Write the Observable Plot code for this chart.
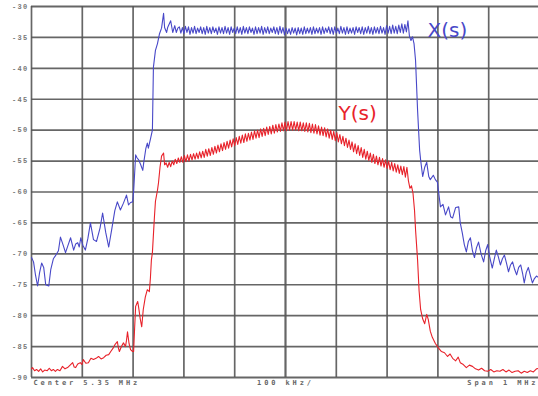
<!DOCTYPE html>
<html><head><meta charset="utf-8">
<script src="https://cdn.jsdelivr.net/npm/d3@7"></script>
<script src="https://cdn.jsdelivr.net/npm/@observablehq/plot@0.6"></script>
<style>
body{margin:0;background:#fff}
svg{display:block}
g[font-family="Liberation Mono"] text{letter-spacing:1.3px}
g[font-family="DejaVu Sans Mono"] text{letter-spacing:2.9px}
</style>
</head><body><div id="chart"></div>
<script>
// Trace X(s): [frequency MHz, level dB]
const traceX = [
[4.850,-70.6],[4.854,-71.3],[4.858,-73.5],[4.862,-75.2],[4.866,-73.0],[4.870,-71.5],[4.874,-72.2],[4.878,-75.0],[4.884,-75.2],[4.888,-72.5],
[4.893,-70.8],[4.898,-70.2],[4.903,-69.5],[4.907,-67.3],[4.912,-68.5],[4.917,-69.8],[4.922,-68.6],[4.927,-67.4],[4.933,-69.4],[4.937,-68.4],
[4.941,-68.2],[4.944,-68.9],[4.947,-67.4],[4.951,-68.6],[4.956,-69.4],[4.961,-67.5],[4.966,-65.0],[4.972,-67.7],[4.978,-68.0],[4.985,-65.8],
[4.990,-63.4],[4.996,-66.5],[5.002,-68.9],[5.008,-66.0],[5.014,-63.0],[5.019,-61.6],[5.025,-62.9],[5.031,-61.8],[5.037,-60.5],[5.041,-62.1],
[5.045,-61.7],[5.049,-61.6],[5.051,-60.0],[5.053,-57.0],[5.055,-54.0],[5.058,-54.5],[5.061,-54.8],[5.065,-55.6],[5.069,-56.5],[5.071,-55.2],
[5.075,-53.0],[5.078,-52.1],[5.080,-52.9],[5.084,-51.5],[5.088,-50.0],[5.090,-39.8],[5.094,-37.1],[5.098,-36.0],[5.102,-34.4],[5.106,-33.5],
[5.110,-31.1],[5.112,-33.4],[5.116,-34.2],[5.118,-33.4],[5.124,-32.3],[5.128,-34.2],[5.132,-33.1],[5.135,-34.2],[5.138,-33.5],
[5.141,-33.3],[5.144,-34.3],[5.147,-33.4],[5.150,-34.4],[5.153,-33.2],[5.156,-34.2],[5.159,-33.3],[5.162,-34.5],[5.165,-33.4],[5.168,-34.3],
[5.171,-33.2],[5.174,-34.4],[5.177,-33.5],[5.180,-34.2],[5.183,-33.3],[5.186,-34.4],[5.189,-33.4],[5.192,-34.5],[5.195,-33.2],[5.198,-34.3],
[5.201,-33.4],[5.204,-34.4],[5.207,-33.3],[5.210,-34.2],[5.213,-33.5],[5.216,-34.5],[5.219,-33.3],[5.222,-34.3],[5.225,-33.4],[5.228,-34.4],
[5.231,-33.2],[5.234,-34.3],[5.237,-33.4],[5.240,-34.5],[5.243,-33.3],[5.246,-34.2],[5.249,-33.5],[5.252,-34.4],[5.255,-33.3],[5.258,-34.3],
[5.261,-33.4],[5.264,-34.5],[5.267,-33.2],[5.270,-34.3],[5.273,-33.4],[5.276,-34.4],[5.279,-33.3],[5.282,-34.2],[5.285,-33.5],[5.288,-34.5],
[5.291,-33.3],[5.294,-34.4],[5.297,-33.4],[5.300,-34.3],[5.303,-33.2],[5.306,-34.5],[5.309,-33.4],[5.312,-34.3],[5.315,-33.3],[5.318,-34.4],
[5.321,-33.5],[5.324,-34.2],[5.327,-33.3],[5.330,-34.4],[5.333,-33.4],[5.336,-34.5],[5.339,-33.2],[5.342,-34.3],[5.345,-33.4],[5.348,-34.6],
[5.351,-33.5],[5.354,-34.4],[5.357,-33.6],[5.360,-34.5],[5.363,-33.4],[5.366,-34.3],[5.369,-33.5],[5.372,-34.6],[5.375,-33.4],[5.378,-34.4],
[5.381,-33.5],[5.384,-34.5],[5.387,-33.3],[5.390,-34.4],[5.393,-33.5],[5.396,-34.3],[5.399,-33.4],[5.402,-34.5],[5.405,-33.3],[5.408,-34.4],
[5.411,-33.5],[5.414,-34.3],[5.417,-33.4],[5.420,-34.5],[5.423,-33.3],[5.426,-34.4],[5.429,-33.5],[5.432,-34.2],[5.435,-33.3],[5.438,-34.4],
[5.441,-33.4],[5.444,-34.5],[5.447,-33.3],[5.450,-34.3],[5.453,-33.5],[5.456,-34.4],[5.459,-33.2],[5.462,-34.3],[5.465,-33.4],[5.468,-34.5],
[5.471,-33.3],[5.474,-34.4],[5.477,-33.5],[5.480,-34.3],[5.483,-33.4],[5.486,-34.5],[5.489,-33.3],[5.492,-34.2],[5.495,-33.4],[5.498,-34.4],
[5.501,-33.3],[5.504,-34.5],[5.507,-33.4],[5.510,-34.3],[5.513,-33.2],[5.516,-34.4],[5.519,-33.4],[5.522,-34.5],[5.525,-33.3],[5.528,-34.3],
[5.531,-33.4],[5.534,-34.4],[5.537,-33.2],[5.540,-34.3],[5.543,-33.4],[5.546,-34.5],[5.549,-33.1],[5.552,-34.3],[5.555,-33.2],[5.558,-34.4],
[5.561,-33.0],[5.564,-34.3],[5.567,-33.2],[5.570,-34.4],[5.573,-33.0],[5.576,-34.2],[5.579,-32.8],[5.582,-34.3],[5.585,-32.9],[5.588,-34.1],
[5.591,-32.3],[5.594,-34.8],[5.597,-35.5],[5.600,-34.9],[5.603,-36.0],[5.606,-38.7],[5.610,-46.8],[5.614,-53.2],[5.616,-54.8],[5.620,-57.5],
[5.624,-56.0],[5.628,-55.2],[5.632,-57.5],[5.635,-58.0],[5.641,-57.3],[5.645,-58.0],[5.649,-58.4],[5.655,-62.4],[5.660,-62.0],[5.665,-63.7],
[5.671,-62.4],[5.675,-64.0],[5.679,-64.2],[5.685,-62.5],[5.691,-62.4],[5.694,-65.0],[5.698,-66.6],[5.702,-68.5],[5.706,-69.7],[5.710,-68.0],
[5.714,-67.4],[5.718,-69.5],[5.722,-70.6],[5.726,-69.0],[5.730,-68.1],[5.735,-70.0],[5.740,-71.3],[5.744,-69.5],[5.748,-68.5],[5.752,-70.5],
[5.757,-72.3],[5.761,-70.8],[5.765,-69.4],[5.769,-70.5],[5.773,-71.8],[5.777,-70.8],[5.781,-70.2],[5.785,-71.5],[5.789,-72.9],[5.793,-71.8],
[5.797,-71.3],[5.801,-72.5],[5.805,-73.4],[5.809,-72.2],[5.813,-71.8],[5.817,-73.3],[5.820,-74.7],[5.824,-73.0],[5.828,-72.2],[5.832,-73.5],
[5.836,-74.7],[5.840,-74.0],[5.844,-73.6],[5.850,-73.9]
];

// Trace Y(s): [frequency MHz, level dB]
const traceY = [
[4.850,-88.6],[4.852,-88.4],[4.856,-88.9],[4.860,-88.7],[4.864,-89.0],[4.868,-88.6],[4.872,-89.1],[4.876,-88.8],[4.881,-88.9],[4.885,-88.5],
[4.889,-88.9],[4.893,-88.7],[4.897,-89.0],[4.901,-88.7],[4.906,-88.9],[4.911,-88.2],[4.916,-88.6],[4.921,-88.4],[4.926,-88.0],[4.931,-87.6],
[4.934,-88.3],[4.937,-88.4],[4.941,-87.8],[4.946,-87.6],[4.949,-87.9],[4.952,-87.1],[4.957,-87.7],[4.962,-87.6],[4.967,-86.9],[4.972,-87.1],
[4.977,-86.9],[4.982,-86.6],[4.987,-87.0],[4.992,-86.8],[4.997,-86.4],[5.002,-86.3],[5.006,-85.8],[5.011,-85.2],[5.015,-84.6],[5.019,-84.2],
[5.021,-85.2],[5.023,-85.8],[5.027,-85.0],[5.031,-84.4],[5.035,-85.0],[5.037,-84.0],[5.039,-82.6],[5.042,-84.5],[5.045,-85.5],[5.049,-85.8],
[5.051,-85.8],[5.053,-82.0],[5.055,-78.5],[5.059,-77.7],[5.061,-78.7],[5.064,-80.5],[5.067,-81.8],[5.070,-79.0],[5.074,-77.0],[5.078,-75.8],
[5.082,-76.1],[5.084,-74.0],[5.086,-71.0],[5.088,-69.8],[5.092,-64.0],[5.094,-61.5],[5.098,-59.7],[5.100,-58.5],[5.103,-56.0],[5.106,-54.2],
[5.110,-53.7],[5.112,-55.6],[5.115,-55.3],[5.118,-56.0],
[5.121,-55.2],[5.124,-55.9],[5.127,-55.0],[5.130,-55.6],[5.133,-54.7],[5.136,-55.4],[5.139,-54.5],[5.142,-55.2],[5.145,-54.3],[5.148,-55.2],
[5.151,-54.1],[5.154,-55.1],[5.157,-54.0],[5.160,-55.0],[5.163,-53.9],[5.166,-54.8],[5.169,-53.8],[5.172,-54.7],[5.175,-53.7],[5.178,-54.6],
[5.181,-53.5],[5.184,-54.5],[5.187,-53.4],[5.190,-54.4],[5.193,-53.1],[5.196,-54.2],[5.199,-53.0],[5.202,-54.1],[5.205,-52.8],[5.208,-53.9],
[5.211,-52.6],[5.214,-53.7],[5.217,-52.4],[5.220,-53.5],[5.223,-52.2],[5.226,-53.3],[5.229,-52.0],[5.232,-53.1],[5.235,-51.8],[5.238,-52.9],
[5.241,-51.6],[5.244,-52.7],[5.247,-51.4],[5.250,-52.5],[5.253,-51.2],[5.256,-52.3],[5.259,-51.0],[5.262,-52.1],[5.265,-50.8],[5.268,-52.0],
[5.271,-50.6],[5.274,-51.8],[5.277,-50.5],[5.280,-51.6],[5.283,-50.3],[5.286,-51.5],[5.289,-50.1],[5.292,-51.3],[5.295,-50.0],[5.298,-51.2],
[5.301,-49.8],[5.304,-51.0],[5.307,-49.7],[5.310,-50.9],[5.313,-49.5],[5.316,-50.7],[5.319,-49.4],[5.322,-50.6],[5.325,-49.2],[5.328,-50.5],
[5.331,-49.1],[5.334,-50.3],[5.337,-49.0],[5.340,-50.2],[5.343,-48.8],[5.346,-50.1],[5.349,-48.7],[5.352,-50.1],[5.355,-48.6],[5.358,-50.0],
[5.361,-48.6],[5.364,-50.0],[5.367,-48.6],[5.370,-50.0],[5.373,-48.7],[5.376,-50.1],[5.379,-48.7],[5.382,-50.1],[5.385,-48.8],[5.388,-50.2],
[5.391,-48.8],[5.394,-50.3],[5.397,-48.9],[5.400,-50.4],[5.403,-49.0],[5.406,-50.5],[5.409,-49.1],[5.412,-50.6],[5.415,-49.3],[5.418,-50.8],
[5.421,-49.5],[5.424,-50.9],[5.427,-49.6],[5.430,-51.1],[5.433,-49.8],[5.436,-51.3],[5.439,-50.0],[5.442,-51.5],[5.445,-50.2],[5.448,-51.7],
[5.451,-50.4],[5.454,-51.9],[5.457,-50.7],[5.460,-52.2],[5.463,-51.0],[5.466,-52.5],[5.469,-51.3],[5.472,-52.8],[5.475,-51.6],[5.478,-53.1],
[5.481,-51.9],[5.484,-53.5],[5.487,-52.2],[5.490,-53.8],[5.493,-52.5],[5.496,-54.1],[5.499,-52.8],[5.502,-54.4],[5.505,-53.1],[5.508,-54.7],
[5.511,-53.4],[5.514,-54.9],[5.517,-53.7],[5.520,-55.2],[5.523,-53.9],[5.526,-55.4],[5.529,-54.2],[5.532,-55.6],[5.535,-54.4],[5.538,-55.8],
[5.541,-54.6],[5.544,-56.0],[5.547,-54.8],[5.550,-56.2],[5.553,-55.0],[5.556,-56.4],[5.559,-55.2],[5.562,-56.6],[5.565,-55.4],[5.568,-56.8],
[5.571,-55.6],[5.574,-57.0],[5.577,-55.8],[5.580,-57.2],[5.583,-55.9],[5.586,-57.6],[5.589,-56.0],
[5.592,-58.2],[5.595,-59.4],[5.598,-59.0],[5.601,-60.2],[5.604,-63.0],[5.606,-66.1],[5.610,-71.0],[5.613,-76.0],[5.616,-79.0],[5.620,-80.5],
[5.624,-81.3],[5.628,-79.8],[5.631,-80.6],[5.635,-82.5],[5.639,-83.5],[5.645,-84.5],[5.651,-85.2],[5.657,-85.8],[5.663,-86.0],[5.669,-86.6],
[5.674,-86.2],[5.679,-86.9],[5.685,-87.3],[5.690,-86.7],[5.694,-87.6],[5.700,-87.9],[5.706,-88.4],[5.712,-88.0],[5.718,-88.2],[5.724,-88.6],
[5.730,-88.8],[5.736,-88.5],[5.742,-88.9],[5.748,-89.0],[5.754,-88.7],[5.760,-89.1],[5.766,-88.9],[5.772,-89.0],[5.778,-88.7],[5.784,-89.1],
[5.790,-88.8],[5.796,-89.2],[5.802,-89.0],[5.808,-88.9],[5.814,-89.3],[5.820,-89.0],[5.826,-89.2],[5.832,-88.9],[5.838,-89.1],[5.844,-88.6],
[5.850,-88.5]
];

const levelTicks = [-30,-35,-40,-45,-50,-55,-60,-65,-70,-75,-80,-85,-90];
const freqTicks = [4.85,4.95,5.05,5.15,5.25,5.35,5.45,5.55,5.65,5.75,5.85];
const footerLabels = ["Center 5.35 MHz","100 kHz/","Span 1 MHz"];
const seriesLabels = [
  {name:"X(s)", f:5.6295, level:-33.9},
  {name:"Y(s)", f:5.4543, level:-47.3}
];

const rows = pairs => pairs.map(([f, level]) => ({f, level}));
const gridColor = "#555";
const blue = "#4848c8", red = "#e8222a";

const chart = Plot.plot({
  width: 538, height: 396,
  marginLeft: 31, marginRight: -1, marginTop: 6, marginBottom: 19,
  x: {domain: [4.85, 5.85], range: [31, 539], axis: null},
  y: {domain: [-90, -30], range: [377, 6], axis: null},
  style: {background: "#fff"},
  marks: [
    Plot.ruleX(freqTicks, {x: d => d, y1: -90, y2: -30, stroke: gridColor, strokeWidth: d => d === 5.35 ? 2.2 : 1.7, strokeOpacity: 0.9}),
    Plot.ruleY(levelTicks, {y: d => d, x1: 4.85, x2: 5.85, stroke: gridColor, strokeWidth: d => (d === -90 || d === -30) ? 2.2 : 1.7, strokeOpacity: 0.9}),
    Plot.line(rows(traceX), {x: "f", y: "level", stroke: blue, strokeWidth: 1.1}),
    Plot.line(rows(traceY), {x: "f", y: "level", stroke: red, strokeWidth: 1.1}),
    Plot.text(levelTicks, {frameAnchor: "left", y: d => d, text: d => `${d}`, dx: -3, textAnchor: "end",
      fontFamily: "Liberation Mono", fontSize: 7, fontWeight: "bold", fill: "#777"}),
    Plot.text([footerLabels[0]], {x: 4.85, frameAnchor: "bottom", text: d => d, dx: 2, dy: 7, textAnchor: "start",
      fontFamily: "DejaVu Sans Mono", fontSize: 7, fontWeight: "bold", fill: "#666"}),
    Plot.text([footerLabels[1]], {x: 5.35, frameAnchor: "bottom", text: d => d, dy: 7, textAnchor: "middle",
      fontFamily: "DejaVu Sans Mono", fontSize: 7, fontWeight: "bold", fill: "#666"}),
    Plot.text([footerLabels[2]], {x: 5.85, frameAnchor: "bottom", text: d => d, dx: -1, dy: 7, textAnchor: "end",
      fontFamily: "DejaVu Sans Mono", fontSize: 7, fontWeight: "bold", fill: "#666"}),
    Plot.text(seriesLabels, {x: "f", y: "level", text: "name", textAnchor: "start",
      fontFamily: "DejaVu Sans", fontSize: 20, fill: d => d.name === "X(s)" ? blue : red})
  ]
});
document.getElementById("chart").appendChild(chart);
</script>
</body></html>
